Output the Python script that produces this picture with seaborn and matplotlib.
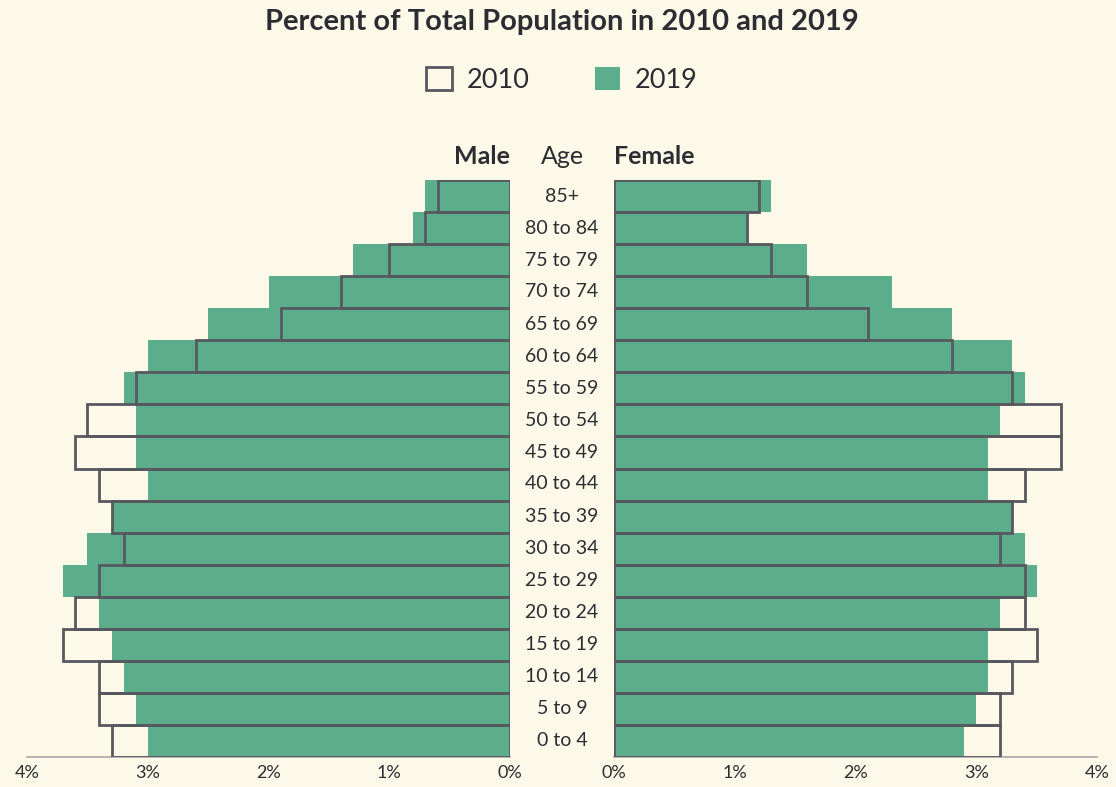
import matplotlib
matplotlib.use("Agg")
import matplotlib.pyplot as plt
from matplotlib.patches import Patch
import seaborn as sns
import pandas as pd

ages = ["85+", "80 to 84", "75 to 79", "70 to 74", "65 to 69", "60 to 64",
        "55 to 59", "50 to 54", "45 to 49", "40 to 44", "35 to 39", "30 to 34",
        "25 to 29", "20 to 24", "15 to 19", "10 to 14", "5 to 9", "0 to 4"]
male_2019 = [0.7, 0.8, 1.3, 2.0, 2.5, 3.0, 3.2, 3.1, 3.1, 3.0, 3.3, 3.5,
             3.7, 3.4, 3.3, 3.2, 3.1, 3.0]
male_2010 = [0.6, 0.7, 1.0, 1.4, 1.9, 2.6, 3.1, 3.5, 3.6, 3.4, 3.3, 3.2,
             3.4, 3.6, 3.7, 3.4, 3.4, 3.3]
female_2019 = [1.3, 1.1, 1.6, 2.3, 2.8, 3.3, 3.4, 3.2, 3.1, 3.1, 3.3, 3.4,
               3.5, 3.2, 3.1, 3.1, 3.0, 2.9]
female_2010 = [1.2, 1.1, 1.3, 1.6, 2.1, 2.8, 3.3, 3.7, 3.7, 3.4, 3.3, 3.2,
               3.4, 3.4, 3.5, 3.3, 3.2, 3.2]
x_ticks = [0, 1, 2, 3, 4]
x_tick_labels = ["0%", "1%", "2%", "3%", "4%"]

BG = "#FDF9E8"
GREEN = "#5BAD8C"
EDGE = "#58585F"
TXT = "#2B2D33"
FONT = ["Lato", "DejaVu Sans"]

sns.set_theme(style="white")
plt.rcParams["font.family"] = FONT

df = pd.DataFrame({"age": ages, "m19": male_2019, "m10": male_2010,
                   "f19": female_2019, "f10": female_2010})

fig = plt.figure(figsize=(11.16, 7.87), dpi=100, facecolor=BG)
axl = fig.add_axes([27 / 1116, 1 - 757 / 787, 483 / 1116, 577 / 787])
axr = fig.add_axes([614 / 1116, 1 - 757 / 787, 483 / 1116, 577 / 787])

for ax, c19, c10 in [(axl, "m19", "m10"), (axr, "f19", "f10")]:
    ax.set_facecolor(BG)
    sns.barplot(data=df, y="age", x=c19, order=ages, orient="h", ax=ax,
                color=GREEN, width=1.0, linewidth=0, saturation=1)
    sns.barplot(data=df, y="age", x=c10, order=ages, orient="h", ax=ax,
                color=EDGE, fill=False, width=1.0, linewidth=2.0, saturation=1)
    for p in ax.patches[len(ages):]:
        p.set_edgecolor(EDGE)
        p.set_facecolor("none")
        p.set_linewidth(2.0)
    ax.set_ylim(len(ages) - 0.5, -0.5)
    ax.set_ylabel("")
    ax.set_xlabel("")
    ax.set_yticks([])
    ax.set_xticks(x_ticks)
    ax.set_xticklabels(x_tick_labels, fontsize=13, color=TXT)
    ax.tick_params(axis="x", length=0, pad=6)
    for s in ["top", "left", "right"]:
        ax.spines[s].set_visible(False)
    ax.spines["bottom"].set_color("#A8A8A8")
    ax.spines["bottom"].set_linewidth(1.2)
    ax.spines["bottom"].set_zorder(0)

axl.set_xlim(4, 0)
axr.set_xlim(0, 4)

# Age labels in the center gap
for i, a in enumerate(ages):
    y = 180 + 32 * i + 16
    fig.text(562 / 1116, 1 - y / 787, a, ha="center", va="center",
             fontsize=14, color=TXT)

fig.text(510 / 1116, 1 - 157 / 787, "Male", ha="right", va="center",
         fontsize=18, fontweight="bold", color=TXT)
fig.text(562 / 1116, 1 - 157 / 787, "Age", ha="center", va="center",
         fontsize=18, color=TXT)
fig.text(614 / 1116, 1 - 157 / 787, "Female", ha="left", va="center",
         fontsize=18, fontweight="bold", color=TXT)

fig.text(562 / 1116, 1 - 22 / 787, "Percent of Total Population in 2010 and 2019",
         ha="center", va="center", fontsize=21, fontweight="bold", color=TXT)

handles = [Patch(facecolor=BG, edgecolor=EDGE, linewidth=2, label="2010"),
           Patch(facecolor=GREEN, edgecolor=GREEN, linewidth=0, label="2019")]
fig.legend(handles=handles, loc="center", bbox_to_anchor=(562 / 1116, 1 - 80 / 787),
           ncol=2, frameon=False, fontsize=19.5, handlelength=0.95, handleheight=0.95,
           handletextpad=0.55, columnspacing=2.4, labelcolor=TXT)

fig.savefig("out.png", dpi=100, facecolor=BG)
